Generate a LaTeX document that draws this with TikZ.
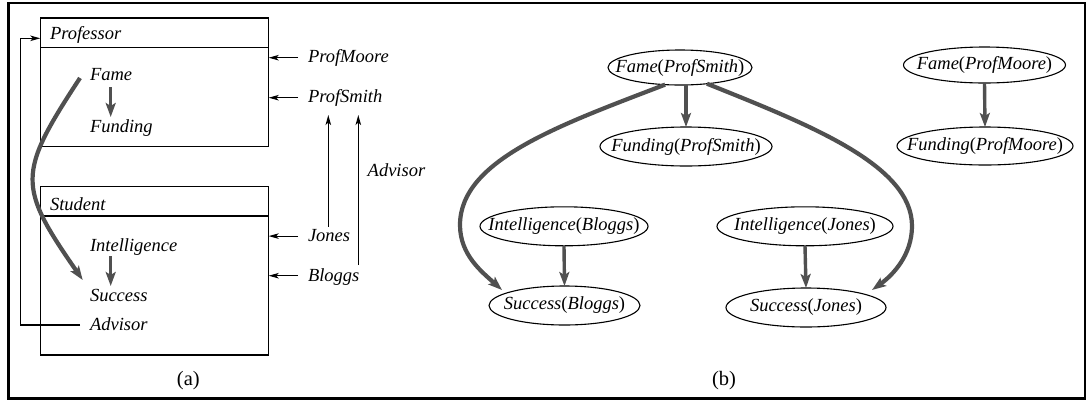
\documentclass[tikz,border=0pt]{standalone}
\usepackage{fontspec}
\setmainfont{Liberation Serif}
\usetikzlibrary{arrows.meta,shapes.geometric,calc}
\definecolor{arrowgray}{RGB}{80,80,80}
\begin{document}
\begin{tikzpicture}[x=1pt,y=-1pt,
  every node/.style={font=\fontsize{18.5}{22}\selectfont, inner sep=0pt, outer sep=0pt},
  lbl/.style={anchor=base west},
  captext/.style={font=\fontsize{20.5}{24}\selectfont},
  box/.style={draw, line width=1.1pt, anchor=north west, minimum width=228.4pt},
  thinarrow/.style={line width=1.1pt, -{Stealth[length=10pt,width=5.5pt,inset=2.5pt]}},
  thickarrow/.style={color=arrowgray, line width=3.4pt, -{Stealth[length=14pt,width=10pt,inset=3pt]}},
  curvearrow/.style={color=arrowgray, line width=4.2pt, -{Stealth[length=14pt,width=10pt,inset=3pt]}},
  ell/.style={draw, ellipse, line width=1.1pt, inner xsep=-30pt, inner ysep=-12pt},
]
\useasboundingbox (0,0) rectangle (1087,400);
\draw[line width=2.6pt] (8.7,3) rectangle (1085,398.5);

% ---------- (a) ----------
\node[box, minimum height=128.7pt] (profbox) at (40.3,18) {};
\node[box, minimum height=168.3pt] (studbox) at (40.3,186.7) {};
\draw[line width=1.1pt] (profbox.west |- 0,47.7) -- (profbox.east |- 0,47.7);
\draw[line width=1.1pt] (studbox.west |- 0,216) -- (studbox.east |- 0,216);

\node[lbl] (prof) at (50,39.3) {\textit{Professor}};
\node[lbl] (fa) at (90,80) {\textit{Fame}};
\node[lbl] (fu) at (90,132.7) {\textit{Funding}};
\node[lbl] (stud) at (50,210.7) {\textit{Student}};
\node[lbl] (in) at (90,251) {\textit{Intelligence}};
\node[lbl] (su) at (90,301) {\textit{Success}};
\node[lbl] (adv) at (90,330) {\textit{Advisor}};
\node[lbl] (pm) at (308,62.3) {\textit{ProfMoore}};
\node[lbl] (ps) at (308,102.3) {\textit{ProfSmith}};
\node[lbl] (jo) at (308,241.7) {\textit{Jones}};
\node[lbl] (bl) at (308,281) {\textit{Bloggs}};
\node[lbl] (adv2) at (367.7,176.7) {\textit{Advisor}};
\node[captext] (capa) at (188.3,381) {(a)};

\coordinate (pmT) at ([shift={(-10,-4.6)}]pm.base west);
\coordinate (psT) at ([shift={(-10,-4.6)}]ps.base west);
\coordinate (joT) at ([shift={(-10,-5.6)}]jo.base west);
\coordinate (blT) at ([shift={(-10,-5.3)}]bl.base west);
\draw[thinarrow] (pmT) -- (pmT -| profbox.east);
\draw[thinarrow] (psT) -- (psT -| profbox.east);
\draw[thinarrow] (joT) -- (joT -| studbox.east);
\draw[thinarrow] (blT) -- (blT -| studbox.east);

\coordinate (joU) at ([shift={(20.3,-15)}]jo.base west);
\coordinate (psD1) at ([shift={(20.3,12.7)}]ps.base west);
\coordinate (blU) at ([shift={(50.3,-16)}]bl.base west);
\coordinate (psD2) at ([shift={(50.3,12.7)}]ps.base west);
\draw[thinarrow] (joU) -- (psD1);
\draw[thinarrow] (blU) -- (psD2);

\coordinate (advT) at ([shift={(-10,-5)}]adv.base west);
\coordinate (advbend) at (20.7,38.3);
\draw[thinarrow] (advT) -| (advbend) -- (advbend -| profbox.west);

\draw[thickarrow] ([shift={(20.7,7)}]fa.base west) -- ([shift={(20.7,-15.7)}]fu.base west);
\draw[thickarrow] ([shift={(20.7,5)}]in.base west) -- ([shift={(20.7,-15)}]su.base west);
\draw[curvearrow] ([shift={(-10,-2)}]fa.base west) .. controls (17,174) and (17.5,186) .. ([shift={(-7.3,-21)}]su.base west);

% ---------- (b) ----------
\node[ell, minimum width=144pt, minimum height=35pt] (fs) at (680,67.5) {\textit{Fame}(\textit{ProfSmith})};
\node[ell, minimum width=172pt, minimum height=39pt] (ffs) at (686,146.5) {\textit{Funding}(\textit{ProfSmith})};
\node[ell, minimum width=162pt, minimum height=36pt] (fm) at (984.5,65) {\textit{Fame}(\textit{ProfMoore})};
\node[ell, minimum width=176pt, minimum height=38pt] (ffm) at (985,146) {\textit{Funding}(\textit{ProfMoore})};
\node[ell, minimum width=168pt, minimum height=39pt] (ib) at (564,226.3) {\textit{Intelligence}(\textit{Bloggs})};
\node[ell, minimum width=151pt, minimum height=39pt] (sb) at (564.5,305.5) {\textit{Success}(\textit{Bloggs})};
\node[ell, minimum width=176pt, minimum height=39pt] (ij) at (805,226.3) {\textit{Intelligence}(\textit{Jones})};
\node[ell, minimum width=160pt, minimum height=39pt] (sj) at (806,307.5) {\textit{Success}(\textit{Jones})};
\node[captext] (capb) at (724,381) {(b)};

\draw[thickarrow] (ffs.north |- fs.south) -- (ffs.north);
\draw[thickarrow] (fm.south) -- (ffm.north);
\draw[thickarrow] (ib.south) -- (sb.north);
\draw[thickarrow] (ij.south) -- (sj.north);

\draw[curvearrow] (fs.229) .. controls (560,125) and (460,160) .. (460,225)
  .. controls (460,255) and (482,272) .. ([shift={(-62.5,-15.5)}]sb.center);
\draw[curvearrow] (fs.329) .. controls (810,125) and (912,165) .. (912,226)
  .. controls (912,255) and (893,275) .. ([shift={(66,-17.5)}]sj.center);
\end{tikzpicture}
\end{document}
